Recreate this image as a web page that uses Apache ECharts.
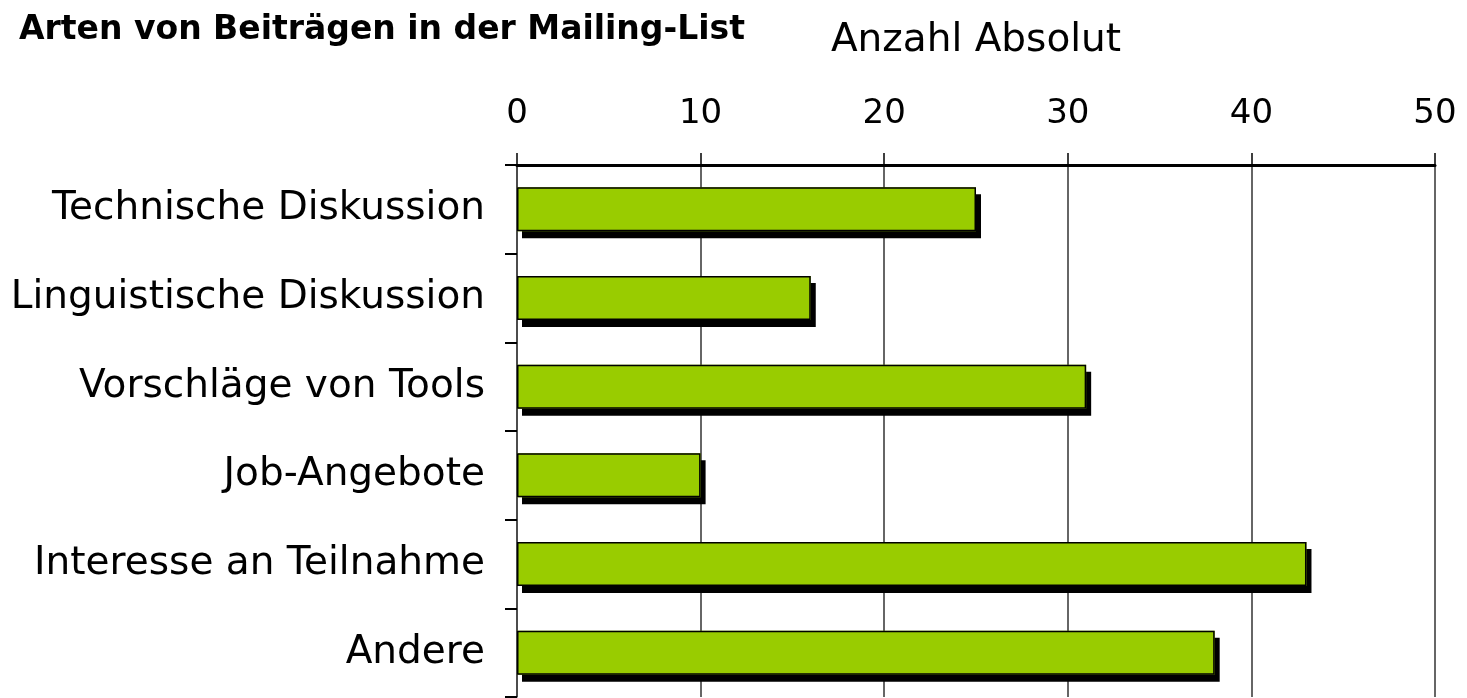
<!DOCTYPE html>
<html>
<head>
<meta charset="utf-8">
<script src="https://cdn.jsdelivr.net/npm/echarts@6/dist/echarts.min.js"></script>
<style>
  html, body { margin: 0; padding: 0; background: #fff; }
</style>
</head>
<body>
<div id="main" style="width: 1467px; height: 698px"></div>
<script>
// Beitragsarten (von oben nach unten)
const categories = [
  'Technische Diskussion',
  'Linguistische Diskussion',
  'Vorschläge von Tools',
  'Job-Angebote',
  'Interesse an Teilnahme',
  'Andere'
]
const counts = [25, 16, 31, 10, 43, 38]

const myChart = echarts.init(document.getElementById('main'))
const option = {
  backgroundColor: '#ffffff',
  animation: false,
  title: {
    text: 'Arten von Beiträgen in der Mailing-List',
    left: 14,
    top: 9,
    textStyle: {
      fontFamily: 'DejaVu Sans',
      fontWeight: 'bold',
      fontSize: 33,
      color: '#000'
    }
  },
  grid: {
    left: 517,
    right: 32,
    top: 165,
    bottom: 1
  },
  xAxis: {
    type: 'value',
    position: 'top',
    min: 0,
    max: 50,
    interval: 10,
    name: 'Anzahl Absolut',
    nameLocation: 'middle',
    nameGap: 105,
    nameTextStyle: {
      fontFamily: 'DejaVu Sans',
      fontSize: 39,
      color: '#000'
    },
    axisLine: { show: true, lineStyle: { color: '#000', width: 3 } },
    axisTick: { show: true, length: 12, lineStyle: { color: '#000', width: 1.5 } },
    axisLabel: {
      margin: 34,
      fontFamily: 'DejaVu Sans',
      fontSize: 34,
      color: '#000'
    },
    splitLine: { show: true, lineStyle: { color: '#333', width: 1.5 } }
  },
  yAxis: {
    type: 'category',
    inverse: true,
    data: categories,
    axisLine: { show: true, lineStyle: { color: '#444', width: 1.5 } },
    axisTick: { show: true, length: 12, lineStyle: { color: '#000', width: 2 } },
    axisLabel: {
      margin: 32,
      padding: [6, 0, 0, 0],
      fontFamily: 'DejaVu Sans',
      fontSize: 39,
      color: '#000'
    },
    splitLine: { show: false }
  },
  series: [
    {
      // Füllung mit hartem Schatten
      type: 'bar',
      data: counts,
      barWidth: 44,
      itemStyle: {
        color: '#99cc00',
        borderWidth: 0,
        shadowColor: '#000',
        shadowBlur: 0,
        shadowOffsetX: 5,
        shadowOffsetY: 7
      }
    },
    {
      // Umriss ohne Schatten
      type: 'bar',
      data: counts,
      barWidth: 44,
      barGap: '-100%',
      silent: true,
      itemStyle: {
        color: 'rgba(0,0,0,0)',
        borderColor: '#000',
        borderWidth: 1.5
      }
    }
  ]
}
myChart.setOption(option)
</script>
</body>
</html>
